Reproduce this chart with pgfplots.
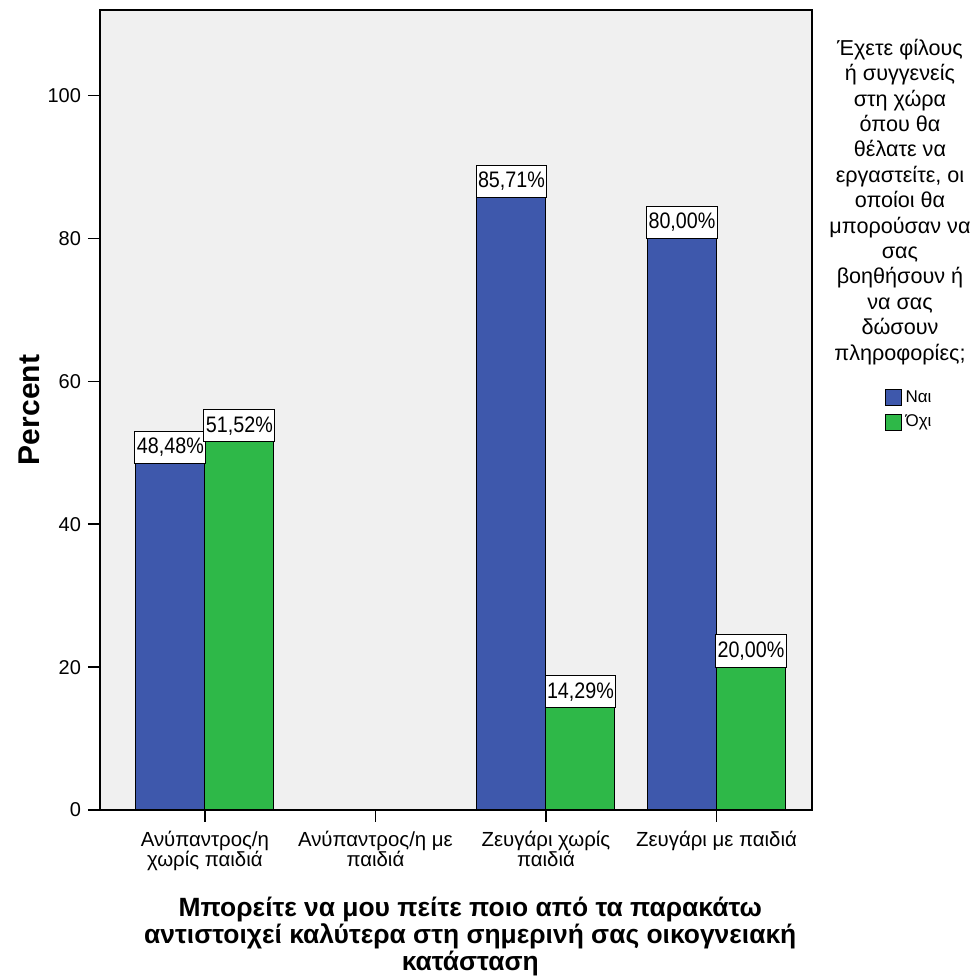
\documentclass[border=0pt]{standalone}
\usepackage{pgfplots}
\pgfplotsset{compat=1.18}
\usepackage{fontspec}
\setmainfont{Liberation Sans}
\newfontfamily\condfont[FakeStretch=0.88]{Liberation Sans}
\definecolor{spssblue}{HTML}{3E58AC}
\definecolor{spssgreen}{HTML}{2EB848}
\definecolor{bggray}{HTML}{F0F0F0}
\begin{document}
\begin{tikzpicture}
\useasboundingbox (0,0) rectangle (489.5pt,489pt);
\begin{axis}[
  at={(50pt,84pt)}, anchor=south west,
  scale only axis, width=356pt, height=400pt,
  xmin=-0.615, xmax=3.56, ymin=0, ymax=112,
  axis background/.style={fill=bggray},
  axis line style={black, line width=0.8pt},
  ybar=0pt, bar width=34.5pt,
  xtick={0,1,2,3},
  xticklabels={{Ανύπαντρος/η\\χωρίς παιδιά},{Ανύπαντρος/η με\\παιδιά},{Ζευγάρι χωρίς\\παιδιά},{Ζευγάρι με παιδιά}},
  xticklabel style={align=center, font=\fontsize{10.2}{10.2}\selectfont, yshift=-1pt},
  ytick={0,20,40,60,80,100},
  yticklabel style={font=\fontsize{10}{12}\selectfont},
  /pgf/number format/assume math mode=true,
  tick align=outside, xtick pos=bottom, ytick pos=left,
  major tick length=6pt,
  tick style={black, line width=0.8pt},
  xlabel={Μπορείτε να μου πείτε ποιο από τα παρακάτω\\αντιστοιχεί καλύτερα στη σημερινή σας οικογνειακή\\κατάσταση},
  xlabel style={at={(axis description cs:0.52,-0.1)}, anchor=north, align=center, font=\fontsize{13.2}{12.4}\selectfont\bfseries},
  ylabel={Percent},
  ylabel style={at={(axis description cs:-0.099,0.5)}, anchor=center, font=\fontsize{15}{16}\selectfont\bfseries},
  nodes near coords={\pgfmathprintnumber[fixed,fixed zerofill,precision=2,use comma]{\pgfplotspointmeta}\%},
  every node near coord/.append style={draw=black, fill=white, line width=0.5pt, font=\condfont\fontsize{11.2}{12}\selectfont, inner xsep=1pt, inner ysep=3.5pt, anchor=south, outer sep=0pt},
  legend style={at={(axis description cs:1.093,0.535)}, anchor=north west, draw=none, fill=none, font=\fontsize{8.5}{9}\selectfont, row sep=1pt},
  legend cell align=left,
  legend image code/.code={\draw[#1] (0pt,-4pt) rectangle (8pt,4pt);},
  clip=false,
]
\addplot[fill=spssblue, draw=black, line width=0.5pt] coordinates {(0,48.48) (2,85.71) (3,80.00)};
\addplot[fill=spssgreen, draw=black, line width=0.5pt] coordinates {(0,51.52) (2,14.29) (3,20.00)};
\legend{Ναι, Όχι}
\node[anchor=north, align=center, font=\fontsize{10.8}{12.7}\selectfont] at (axis description cs:1.1236,0.9725) {Έχετε φίλους\\ή συγγενείς\\στη χώρα\\όπου θα\\θέλατε να\\εργαστείτε, οι\\οποίοι θα\\μπορούσαν να\\σας\\βοηθήσουν ή\\να σας\\δώσουν\\πληροφορίες;};
\end{axis}
\end{tikzpicture}
\end{document}
